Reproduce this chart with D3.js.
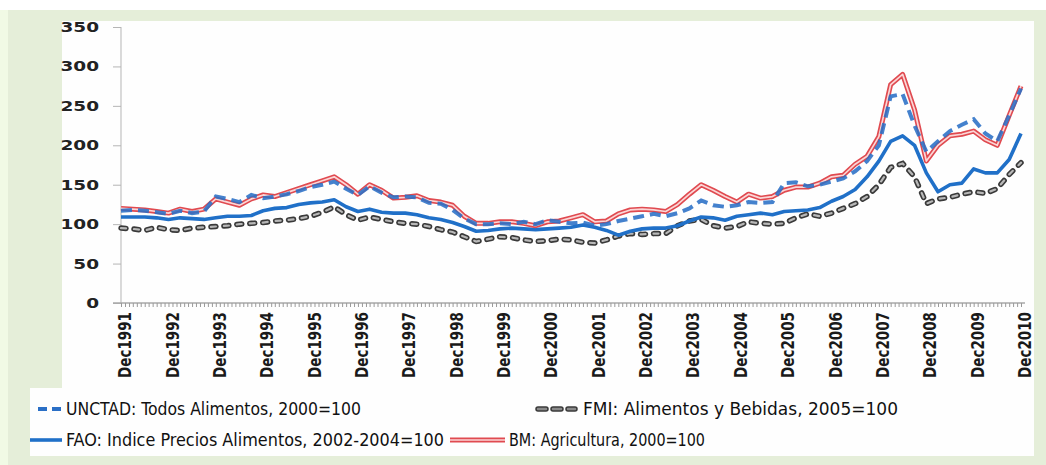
<!DOCTYPE html>
<html>
<head>
<meta charset="utf-8">
<script src="https://cdn.jsdelivr.net/npm/d3@7"></script>
<style>
  body { margin: 0; background: #fff; }
  svg { display: block; }
  .ylab { font-family: "DejaVu Sans", sans-serif; font-weight: bold; font-size: 14px; fill: #222; }
  .xlab { font-family: "DejaVu Sans Condensed", "DejaVu Sans", sans-serif; font-weight: bold; font-size: 15px; fill: #1a1a1a; }
  .leg { font-family: "DejaVu Sans Condensed", "DejaVu Sans", sans-serif; font-size: 17px; fill: #111; }
</style>
</head>
<body>
<svg class="chart"></svg>
<script>
// quarterly readings, Dec1991 .. Dec2010
const startMonth = new Date(1991, 11, 1);
const endMonth = new Date(2010, 11, 1);

const unctad = [117,118,117,115,113,117,114,116,135,132,128,137,133,135,138,142,147,150,154,145,
  137,148,140,134,135,134,127,126,118,107,100,100,101,100,103,100,105,103,101,102,
  98,100,104,107,110,113,110,114,120,130,124,122,124,128,127,128,152,153,148,150,
  154,158,167,180,200,262,265,225,192,205,218,226,233,215,205,238,272];

const fmi = [95,94,92,96,93,92,95,96,97,98,100,101,102,104,105,107,110,115,122,112,
  105,109,106,103,101,100,97,93,90,84,78,81,84,83,80,78,79,81,80,77,
  76,80,85,88,87,88,88,98,104,106,98,95,97,103,101,100,101,108,113,110,
  114,120,126,135,150,172,177,160,126,132,134,138,141,139,145,163,178];

const fao = [109,109,109,108,106,108,107,106,108,110,110,111,117,120,121,125,127,128,131,122,
  116,119,115,114,114,112,108,106,102,97,91,92,94,95,94,93,94,95,96,99,
  96,92,86,91,94,95,95,98,104,109,108,105,110,112,114,112,116,117,118,121,
  129,135,144,160,180,205,212,200,165,141,150,152,170,165,165,182,215];

const bm = [120,119,118,116,114,119,116,119,132,128,124,132,137,135,140,145,150,155,160,150,
  138,150,143,133,134,136,130,128,124,110,101,101,103,103,101,98,103,104,108,112,
  103,104,113,118,119,118,116,125,138,150,143,135,128,138,133,135,143,147,147,152,
  160,162,176,186,211,277,290,245,180,200,212,214,218,207,200,238,275];

const yTicks = [0, 50, 100, 150, 200, 250, 300, 350];
const yearLabels = d3.range(1991, 2011);

const legendNames = [
  "UNCTAD: Todos Alimentos, 2000=100",
  "FMI: Alimentos y Bebidas, 2005=100",
  "FAO: Indice Precios Alimentos, 2002-2004=100",
  "BM: Agricultura, 2000=100"
];

const width = 1046, height = 465;
const dates = unctad.map((d, i) => d3.timeMonth.offset(startMonth, i * 3));

const svg = d3.select(".chart")
  .attr("width", width)
  .attr("height", height);

// framing
svg.append("rect").attr("x", 0).attr("y", 10).attr("width", width).attr("height", height - 10).attr("fill", "#f1fae5");
svg.append("rect").attr("x", 8).attr("y", 10).attr("width", width - 8).attr("height", height - 10).attr("fill", "#e5eed9");
svg.append("rect").attr("x", 62).attr("y", 21).attr("width", 972).attr("height", 370).attr("fill", "#fefefe");
svg.append("rect").attr("x", 30).attr("y", 388).attr("width", 1004).attr("height", 68).attr("fill", "#fefefe");

const x = d3.scaleTime()
  .domain([startMonth, endMonth])
  .range([121, 1021]);

const y = d3.scaleLinear()
  .domain([0, 350])
  .range([303, 27]);

// y axis
const yAxis = d3.axisLeft(y)
  .tickValues(yTicks)
  .tickSize(8)
  .tickPadding(0)
  .tickFormat(d => "");

const gy = svg.append("g")
  .attr("transform", "translate(121,0)")
  .call(yAxis);
gy.select(".domain").attr("stroke", "#b5b5b5").attr("d", "M0,27V303");
gy.selectAll(".tick line").attr("stroke", "#b5b5b5");

svg.append("g").selectAll("text")
  .data(yTicks)
  .join("text")
    .attr("class", "ylab")
    .attr("text-anchor", "end")
    .attr("transform", d => `translate(99,${y(d) + 5}) scale(1.32,1)`)
    .text(d => d);

// x axis, monthly ticks
const xAxis = d3.axisBottom(x)
  .ticks(d3.timeMonth.every(1))
  .tickSize(4)
  .tickFormat(d => "");

const gx = svg.append("g")
  .attr("transform", "translate(0,303)")
  .call(xAxis);
gx.select(".domain").attr("stroke", "#a8a8a8").attr("stroke-width", 1.5).attr("d", "M113,0H1025");
gx.selectAll(".tick line").attr("stroke", "#9a9a9a");

svg.append("g").selectAll("text")
  .data(yearLabels)
  .join("text")
    .attr("class", "xlab")
    .attr("text-anchor", "end")
    .attr("transform", d => `translate(${x(new Date(d, 11, 1)) + 4},312) rotate(-90) scale(1,1.15)`)
    .attr("dy", "0.35em")
    .text(d => "Dec" + d);

const line = d3.line()
  .x((d, i) => x(dates[i]))
  .y(d => y(d));

const plot = svg.append("g");

// FMI: dark capsule dashes with grey centre
plot.append("path").datum(fmi).attr("d", line)
  .attr("fill", "none").attr("stroke", "#3a3a3a").attr("stroke-width", 5.5)
  .attr("stroke-linecap", "round").attr("stroke-dasharray", "5,8");
plot.append("path").datum(fmi).attr("d", line)
  .attr("fill", "none").attr("stroke", "#b8b8b8").attr("stroke-width", 2.2)
  .attr("stroke-linecap", "round").attr("stroke-dasharray", "5,8");

// FAO solid blue
plot.append("path").datum(fao).attr("d", line)
  .attr("fill", "none").attr("stroke", "#2070c8").attr("stroke-width", 3.6)
  .attr("stroke-linejoin", "round");

// BM double red
plot.append("path").datum(bm).attr("d", line)
  .attr("fill", "none").attr("stroke", "#e04a50").attr("stroke-width", 5)
  .attr("stroke-linejoin", "round");
plot.append("path").datum(bm).attr("d", line)
  .attr("fill", "none").attr("stroke", "#fbd6d6").attr("stroke-width", 1.7)
  .attr("stroke-linejoin", "round");

// UNCTAD dashed blue
plot.append("path").datum(unctad).attr("d", line)
  .attr("fill", "none").attr("stroke", "#2a6fc6").attr("stroke-width", 4)
  .attr("stroke-dasharray", "11,6").attr("opacity", 0.88);

// legend
const leg = svg.append("g");
const legRows = [
  {name: legendNames[0], sx: 38, ex: 62, tx: 66, len: 295, y: 409, kind: "unctad"},
  {name: legendNames[1], sx: 535, ex: 578, tx: 583, len: 315, y: 409, kind: "fmi"},
  {name: legendNames[2], sx: 30, ex: 62, tx: 66, len: 378, y: 440, kind: "fao"},
  {name: legendNames[3], sx: 450, ex: 505, tx: 509, len: 196, y: 440, kind: "bm"}
];

legRows.forEach(r => {
  const path = `M${r.sx},${r.y}H${r.ex}`;
  if (r.kind === "unctad") {
    leg.append("path").attr("d", path).attr("stroke", "#2a6fc6").attr("stroke-width", 4).attr("stroke-dasharray", "9,5");
  } else if (r.kind === "fmi") {
    leg.append("path").attr("d", `M${r.sx + 3},${r.y}H${r.ex - 3}`).attr("stroke", "#3a3a3a").attr("stroke-width", 5.5)
      .attr("stroke-linecap", "round").attr("stroke-dasharray", "8,7");
    leg.append("path").attr("d", `M${r.sx + 3},${r.y}H${r.ex - 3}`).attr("stroke", "#8a8a8a").attr("stroke-width", 2.5)
      .attr("stroke-linecap", "round").attr("stroke-dasharray", "8,7");
  } else if (r.kind === "fao") {
    leg.append("path").attr("d", path).attr("stroke", "#2070c8").attr("stroke-width", 3.6);
  } else {
    leg.append("path").attr("d", path).attr("stroke", "#e04a50").attr("stroke-width", 5);
    leg.append("path").attr("d", path).attr("stroke", "#fbd6d6").attr("stroke-width", 1.7);
  }
  leg.append("text")
    .attr("class", "leg")
    .attr("x", r.tx)
    .attr("y", r.y)
    .attr("dy", "0.35em")
    .attr("textLength", r.len)
    .attr("lengthAdjust", "spacingAndGlyphs")
    .text(r.name);
});
</script>
</body>
</html>
